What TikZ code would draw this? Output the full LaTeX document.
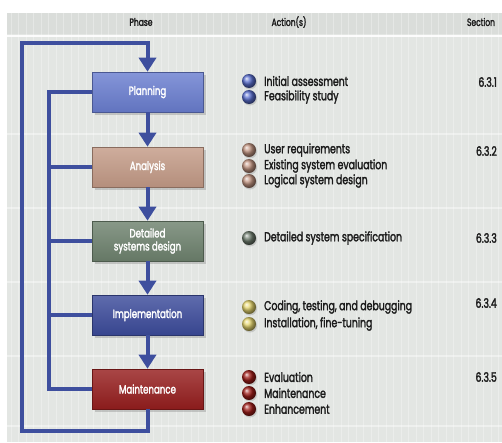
\documentclass[tikz,border=0pt]{standalone}
\usepackage{fontspec}
\newfontfamily\cond[FakeStretch=0.72, FakeBold=2]{Poppins}
\usetikzlibrary{arrows.meta,shadows}

\definecolor{paper}{HTML}{E3E6E3}
\definecolor{headband}{HTML}{DADDDA}
\definecolor{flowblue}{HTML}{3E4F9E}
\definecolor{cPlan}{HTML}{6A7ED0}
\definecolor{cAna}{HTML}{C49B87}
\definecolor{cDes}{HTML}{6E826E}
\definecolor{cImp}{HTML}{3C4B9B}
\definecolor{cMai}{HTML}{961E1E}
\definecolor{bPlan}{HTML}{5A6FD0}
\definecolor{bAna}{HTML}{C39682}
\definecolor{bDes}{HTML}{6E7D6E}
\definecolor{bImp}{HTML}{E6D66E}
\definecolor{bMai}{HTML}{A01E19}
\definecolor{ink}{HTML}{1C1C1C}

\tikzset{
  phasebox/.style={
    minimum width=111pt, minimum height=40pt, inner sep=2pt,
    align=center, text=white, font=\cond\fontsize{12}{13}\selectfont,
    top color=#1!82!white, bottom color=#1!92!black, draw=#1!70!black,
    line width=0.6pt,
    drop shadow={shadow xshift=2.5pt, shadow yshift=-2.5pt, opacity=0.35}
  },
  flow/.style={draw=flowblue, line width=4pt, line join=miter},
  flowarrow/.style={flow, -{Triangle[width=17pt,length=14pt]}},
  bullet/.style={circle, minimum size=14pt, inner sep=0pt, shading=ball, ball color=#1,
    drop shadow={shadow xshift=1pt, shadow yshift=-1.5pt, opacity=0.3}},
  action/.style={anchor=west, text=ink, font=\cond\fontsize{13}{14}\selectfont, inner sep=0pt},
  secnum/.style={anchor=east, text=ink, font=\cond\fontsize{13}{14}\selectfont, inner sep=0pt},
  colhead/.style={text=ink, font=\cond\fontsize{10.5}{11}\selectfont, inner sep=0pt}
}

\begin{document}
\begin{tikzpicture}[x=1pt, y=-1pt]
  \useasboundingbox (0,0) rectangle (502,442);

  % paper background with faint graph-paper lines
  \fill[white] (0,0) rectangle (502,442);
  \fill[paper] (7,13) rectangle (502,442);
  \fill[headband] (7,13) rectangle (502,34);
  \begin{scope}
    \clip (7,13) rectangle (502,442);
    \foreach \gx in {11,18.5,...,502} \draw[white, opacity=0.3, line width=0.5pt] (\gx,13) -- (\gx,442);
    \draw[white, opacity=0.9, line width=1.2pt] (7,36) -- (502,36);
    \foreach \gy in {134,208,282,356,426} \draw[white, opacity=0.4, line width=1.5pt] (7,\gy) -- (502,\gy);
  \end{scope}

  % column headings
  \node[colhead] (hPhase) at (141,22) {Phase};
  \node[colhead] (hAct) at (289,22) {Action(s)};
  \node[colhead] (hSec) at (481,22) {Section};

  % phase boxes
  \node[phasebox=cPlan] (plan) at (147.5,92) {Planning};
  \node[phasebox=cAna]  (ana)  at (147.5,167) {Analysis};
  \node[phasebox=cDes]  (des)  at (147.5,241) {Detailed\\systems design};
  \node[phasebox=cImp]  (imp)  at (147.5,315) {Implementation};
  \node[phasebox=cMai]  (mai)  at (147.5,389) {Maintenance};

  % feedback bus on the left
  \coordinate (busTop) at (49,92);
  \coordinate (busBot) at (49,389);
  \draw[flow] (plan.west) -- (busTop) -- (busBot) -- (mai.west);
  \draw[flow] (ana.west) -- (ana.west -| busTop);
  \draw[flow] (des.west) -- (des.west -| busTop);
  \draw[flow] (imp.west) -- (imp.west -| busTop);

  % outer loop from maintenance back to planning
  \coordinate (loopBL) at (22,431);
  \coordinate (loopTL) at (22,43);
  \draw[flowarrow] (mai.south) |- (loopBL) -- (loopTL) -| (plan.north);

  % downward flow between phases
  \draw[flowarrow] (plan.south) -- (ana.north);
  \draw[flowarrow] (ana.south) -- (des.north);
  \draw[flowarrow] (des.south) -- (imp.north);
  \draw[flowarrow] (imp.south) -- (mai.north);

  % actions: planning
  \node[bullet=bPlan] (b11) at (249,81) {};
  \node[action] (a11) at (264,81) {Initial assessment};
  \node[bullet=bPlan] (b12) at (249,97) {};
  \node[action] (a12) at (264,97) {Feasibility study};
  \node[secnum] (s1) at (497,82) {6.3.1};

  % actions: analysis
  \node[bullet=bAna] (b21) at (249,150) {};
  \node[action] (a21) at (264,150) {User requirements};
  \node[bullet=bAna] (b22) at (249,166) {};
  \node[action] (a22) at (264,166) {Existing system evaluation};
  \node[bullet=bAna] (b23) at (249,181) {};
  \node[action] (a23) at (264,181) {Logical system design};
  \node[secnum] (s2) at (497,151) {6.3.2};

  % actions: detailed design
  \node[bullet=bDes] (b31) at (249,238) {};
  \node[action] (a31) at (264,238) {Detailed system specification};
  \node[secnum] (s3) at (497,238) {6.3.3};

  % actions: implementation
  \node[bullet=bImp] (b41) at (249,307) {};
  \node[action] (a41) at (264,307) {Coding, testing, and debugging};
  \node[bullet=bImp] (b42) at (249,324) {};
  \node[action] (a42) at (264,324) {Installation, fine-tuning};
  \node[secnum] (s4) at (497,303) {6.3.4};

  % actions: maintenance
  \node[bullet=bMai] (b51) at (249,377) {};
  \node[action] (a51) at (264,377) {Evaluation};
  \node[bullet=bMai] (b52) at (249,393) {};
  \node[action] (a52) at (264,393) {Maintenance};
  \node[bullet=bMai] (b53) at (249,409) {};
  \node[action] (a53) at (264,409) {Enhancement};
  \node[secnum] (s5) at (497,377) {6.3.5};
\end{tikzpicture}
\end{document}
